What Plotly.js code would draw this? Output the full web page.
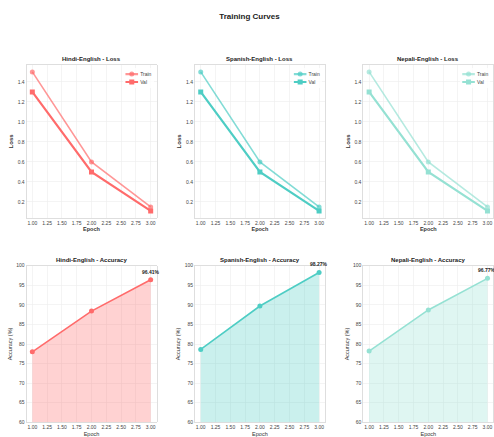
<!DOCTYPE html>
<html>
<head>
<meta charset="utf-8">
<script src="https://cdn.plot.ly/plotly-3.0.1.min.js"></script>
<style>html,body{margin:0;padding:0;background:#fff;}#chart{width:494px;height:437px;}</style>
</head>
<body>
<div id="chart"></div>
<script>
// ---- data ----
const epochs = [1, 2, 3];
const languages = ['Hindi-English', 'Spanish-English', 'Nepali-English'];
const trainLossHindi = [1.50, 0.60, 0.15];
const valLossHindi = [1.30, 0.50, 0.11];
const trainLossSpanish = [1.50, 0.60, 0.15];
const valLossSpanish = [1.30, 0.50, 0.11];
const trainLossNepali = [1.50, 0.60, 0.15];
const valLossNepali = [1.30, 0.50, 0.11];
const accHindi = [78.0, 88.4, 96.41];
const accSpanish = [78.6, 89.7, 98.27];
const accNepali = [78.2, 88.7, 96.77];
const xTickVals = [1.00, 1.25, 1.50, 1.75, 2.00, 2.25, 2.50, 2.75, 3.00];

// ---- styles ----
const rgb = [[255,107,107],[78,205,196],[149,225,211]];
const c = (i, a) => `rgba(${rgb[i][0]},${rgb[i][1]},${rgb[i][2]},${a})`;
const trainLoss = [trainLossHindi, trainLossSpanish, trainLossNepali];
const valLoss = [valLossHindi, valLossSpanish, valLossNepali];
const accs = [accHindi, accSpanish, accNepali];

const W = 494, H = 437;
const colPx = [[26.4,156.6],[194.8,325.0],[363.2,493.4]];
const rowPx = [[65,217.8],[265.7,422.3]];
const xd = i => [colPx[i][0]/W, colPx[i][1]/W];
const yd = r => [1 - rowPx[r][1]/H, 1 - rowPx[r][0]/H];
const LEG_SCALE = 0.42;

const FONT = 'Liberation Sans, Arial, sans-serif';
const traces = [];
const layout = {
  width: W, height: H,
  margin: {l:0, r:0, t:0, b:0},
  paper_bgcolor: '#ffffff', plot_bgcolor: '#ffffff',
  font: {family: FONT, color: '#333333', size: 5},
  showlegend: true,
  annotations: [],
  title: {text: '<b>Training Curves</b>', font: {family: FONT, size: 8, color: '#222222'},
          x: 0.505, xanchor: 'center', y: 1 - 16/H, yanchor: 'middle'}
};

function axisBase() {
  return {
    showgrid: true, gridcolor: '#ececec', gridwidth: 0.6,
    showline: true, linecolor: '#d6d6d6', linewidth: 0.8, mirror: true,
    zeroline: false, ticks: '', tickfont: {family: FONT, size: 5, color: '#444444'},
    automargin: false
  };
}

for (let i = 0; i < 3; i++) {
  // loss panel
  const ax = i + 1;
  const xa = ax === 1 ? 'x' : 'x' + ax;
  const ya = ax === 1 ? 'y' : 'y' + ax;
  const legName = i === 0 ? 'legend' : 'legend' + (i + 1);
  traces.push({
    x: epochs, y: trainLoss[i], xaxis: xa, yaxis: ya, type: 'scatter', mode: 'lines+markers',
    name: 'Train', legend: legName,
    line: {color: c(i, 0.7), width: 1.6},
    marker: {symbol: 'circle', size: 5, color: c(i, 0.7)}
  });
  traces.push({
    x: epochs, y: valLoss[i], xaxis: xa, yaxis: ya, type: 'scatter', mode: 'lines+markers',
    name: 'Val', legend: legName,
    line: {color: c(i, 1), width: 2.2},
    marker: {symbol: 'square', size: 5, color: c(i, 1)}
  });
  layout['xaxis' + (ax === 1 ? '' : ax)] = Object.assign(axisBase(), {
    domain: xd(i), anchor: ya, range: [0.9, 3.1], tickvals: xTickVals, tickformat: '.2f',
    title: {text: '<b>Epoch</b>', font: {family: FONT, size: 5.5, color: '#333'}, standoff: 2}
  });
  layout['yaxis' + (ax === 1 ? '' : ax)] = Object.assign(axisBase(), {
    domain: yd(0), anchor: xa, range: [0.041, 1.569], dtick: 0.2, tick0: 0, tickformat: '.1f',
    title: {text: '<b>Loss</b>', font: {family: FONT, size: 6, color: '#333'}, standoff: 3}
  });
  layout[legName] = {
    x: colPx[i][1]/W - 0.004, xanchor: 'right', y: 1 - 68/H, yanchor: 'top',
    bgcolor: 'rgba(255,255,255,0.8)', borderwidth: 0, itemsizing: 'constant',
    font: {family: FONT, size: 5 / LEG_SCALE, color: '#444'}, itemwidth: 30, tracegroupgap: 0
  };
  layout.annotations.push({
    xref: 'paper', yref: 'paper', x: (colPx[i][0] + colPx[i][1]) / 2 / W, y: 1 - 59/H,
    xanchor: 'center', yanchor: 'middle', showarrow: false,
    text: '<b>' + languages[i] + ' - Loss</b>', font: {family: FONT, size: 6, color: '#222'}
  });

  // accuracy panel
  const bx = i + 4;
  const xb = 'x' + bx, yb = 'y' + bx;
  traces.push({
    x: epochs, y: accs[i], xaxis: xb, yaxis: yb, type: 'scatter', mode: 'lines+markers',
    name: languages[i] + ' Accuracy', showlegend: false,
    fill: 'tozeroy', fillcolor: c(i, 0.3),
    line: {color: c(i, 1), width: 1.6},
    marker: {symbol: 'circle', size: 5, color: c(i, 1)}
  });
  layout['xaxis' + bx] = Object.assign(axisBase(), {
    domain: xd(i), anchor: yb, range: [0.9, 3.1], tickvals: xTickVals, tickformat: '.2f',
    title: {text: 'Epoch', font: {family: FONT, size: 5.5, color: '#333'}, standoff: 2}
  });
  layout['yaxis' + bx] = Object.assign(axisBase(), {
    domain: yd(1), anchor: xb, range: [60, 100], dtick: 5, tick0: 60,
    title: {text: 'Accuracy (%)', font: {family: FONT, size: 5.5, color: '#333'}, standoff: 3}
  });
  layout.annotations.push({
    xref: 'paper', yref: 'paper', x: (colPx[i][0] + colPx[i][1]) / 2 / W, y: 1 - 260/H,
    xanchor: 'center', yanchor: 'middle', showarrow: false,
    text: '<b>' + languages[i] + ' - Accuracy</b>', font: {family: FONT, size: 6, color: '#222'}
  });
  const last = accs[i].length - 1;
  layout.annotations.push({
    xref: xb, yref: yb, x: epochs[last], y: accs[i][last],
    xanchor: 'center', yanchor: 'bottom', yshift: 3, showarrow: false,
    text: '<b>' + accs[i][last].toFixed(2) + '%</b>', font: {family: FONT, size: 5, color: '#222'}
  });
}

Plotly.newPlot('chart', traces, layout, {displayModeBar: false, staticPlot: true}).then(gd => {
  // shrink the three legends to a compact matplotlib-like box in each loss panel's top-right
  const legs = gd.querySelectorAll('g.infolayer > g[class^="legend"]');
  legs.forEach((g, k) => {
    const bb = g.getBBox();
    const right = colPx[k][1] - 3;
    const top = 68;
    const tx = right - (bb.x + bb.width) * LEG_SCALE;
    const ty = top - bb.y * LEG_SCALE;
    g.setAttribute('transform', `translate(${tx},${ty}) scale(${LEG_SCALE})`);
  });
});
</script>
</body>
</html>
